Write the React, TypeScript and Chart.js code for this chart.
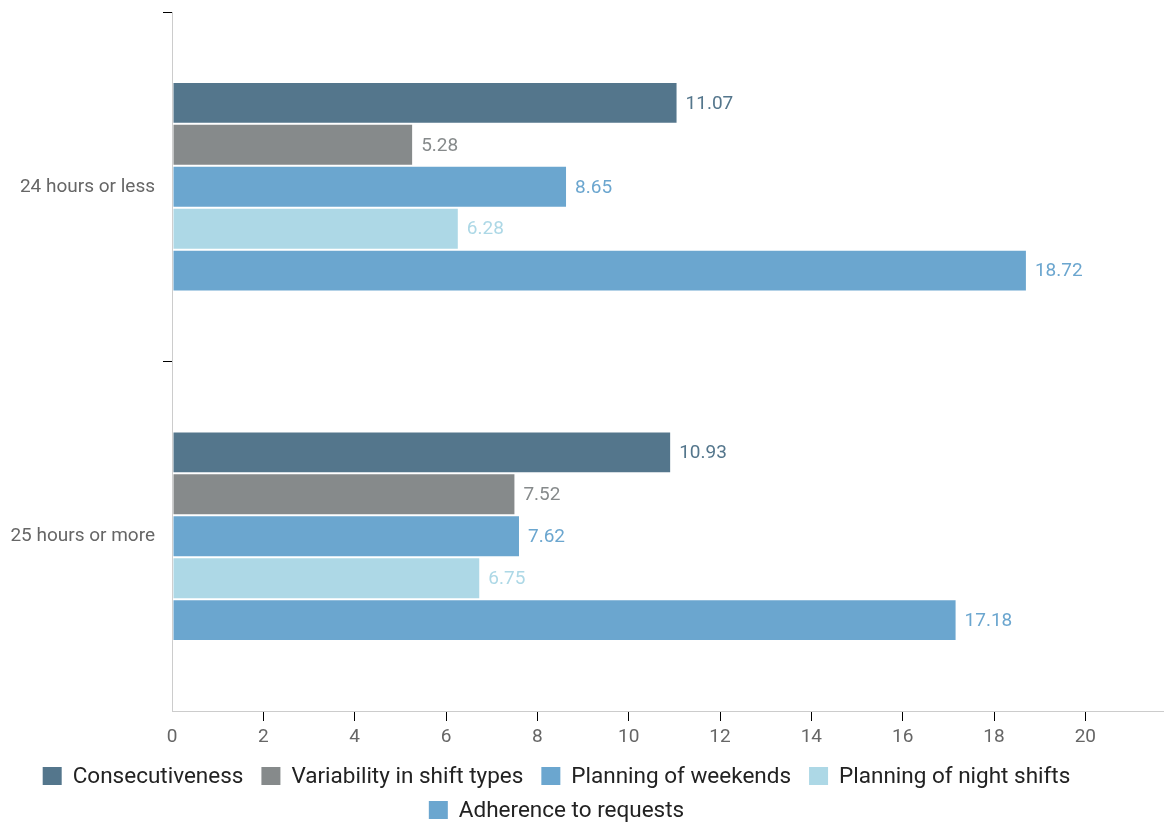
import React, { useEffect, useRef } from "react";
import { Chart, registerables } from "chart.js";

Chart.register(...registerables);

const categories = ["24 hours or less", "25 hours or more"];
const seriesNames = [
  "Consecutiveness",
  "Variability in shift types",
  "Planning of weekends",
  "Planning of night shifts",
  "Adherence to requests",
];
const consecutiveness = [11.07, 10.93];
const variability = [5.28, 7.52];
const weekends = [8.65, 7.62];
const nightShifts = [6.28, 6.75];
const adherence = [18.72, 17.18];
const seriesColors = ["#54768c", "#868a8b", "#6ba6cf", "#add8e6", "#6ba6cf"];

const FONT = "Roboto, 'Noto Sans', sans-serif";
const CANVAS_W = 1165;
const CANVAS_H = 823;

// Legend geometry (drawn below the x axis)
const LEGEND_FONT_SIZE = 22.5;
const LEGEND_BOX_W = 19;
const LEGEND_BOX_H = 18;
const LEGEND_BOX_GAP = 11;
const LEGEND_ITEM_GAP = 18;
const LEGEND_FIRST_ROW = 65;
const LEGEND_ROW_STEP = 34;
const LEGEND_SHIFT_X = -26;

// Writes each bar's value just past its end, in the bar's colour.
const valueLabels = {
  id: "valueLabels",
  afterDatasetsDraw(chart: any) {
    const ctx = chart.ctx;
    ctx.save();
    ctx.font = `19px ${FONT}`;
    ctx.textBaseline = "middle";
    ctx.textAlign = "left";
    chart.data.datasets.forEach((ds: any, i: number) => {
      const meta = chart.getDatasetMeta(i);
      meta.data.forEach((bar: any, j: number) => {
        ctx.fillStyle = seriesColors[i];
        ctx.fillText(Number(ds.data[j]).toFixed(2), bar.x + 8, bar.y + 1);
      });
    });
    ctx.restore();
  },
};

// Centred, wrapping legend with square swatches.
const bottomLegend = {
  id: "bottomLegend",
  afterDraw(chart: any) {
    const ctx = chart.ctx;
    ctx.save();
    ctx.font = `${LEGEND_FONT_SIZE}px ${FONT}`;
    ctx.textBaseline = "middle";
    ctx.textAlign = "left";
    const items = chart.data.datasets.map((ds: any) => {
      const w = LEGEND_BOX_W + LEGEND_BOX_GAP + ctx.measureText(ds.label).width;
      return { text: ds.label, color: ds.backgroundColor, w };
    });
    const maxW = chart.width - 40;
    const rows: any[][] = [[]];
    let rowW = 0;
    items.forEach((it: any) => {
      const row = rows[rows.length - 1];
      const next = row.length ? rowW + LEGEND_ITEM_GAP + it.w : it.w;
      if (row.length && next > maxW) {
        rows.push([it]);
        rowW = it.w;
      } else {
        row.push(it);
        rowW = next;
      }
    });
    const cx = chart.width / 2 + LEGEND_SHIFT_X;
    rows.forEach((row, r) => {
      const total =
        row.reduce((s: number, it: any) => s + it.w, 0) + LEGEND_ITEM_GAP * (row.length - 1);
      let x = cx - total / 2;
      const y = chart.chartArea.bottom + LEGEND_FIRST_ROW + r * LEGEND_ROW_STEP;
      row.forEach((it: any) => {
        ctx.fillStyle = it.color;
        ctx.fillRect(x, y - LEGEND_BOX_H / 2, LEGEND_BOX_W, LEGEND_BOX_H);
        ctx.fillStyle = "#222";
        ctx.fillText(it.text, x + LEGEND_BOX_W + LEGEND_BOX_GAP, y + 1);
        x += it.w + LEGEND_ITEM_GAP;
      });
    });
    ctx.restore();
  },
};

export default function App() {
  const ref = useRef<HTMLCanvasElement | null>(null);

  useEffect(() => {
    if (!ref.current) return;
    const values = [consecutiveness, variability, weekends, nightShifts, adherence];
    const chart = new Chart(ref.current, {
      type: "bar",
      data: {
        labels: categories,
        datasets: seriesNames.map((name, i) => ({
          label: name,
          data: values[i],
          backgroundColor: seriesColors[i],
          borderColor: "rgba(255,255,255,0.3)",
          borderWidth: 1,
          borderSkipped: false,
          categoryPercentage: 0.6,
          barPercentage: 1,
        })),
      },
      options: {
        indexAxis: "y",
        animation: false,
        responsive: false,
        layout: { padding: { top: 12, right: 2, left: 0, bottom: 70 } },
        plugins: {
          tooltip: { enabled: false },
          legend: { display: false },
        },
        scales: {
          x: {
            min: 0,
            max: 21.7,
            afterBuildTicks: (scale: any) => {
              scale.ticks = scale.ticks.filter((t: any) => t.value % 2 === 0);
            },
            afterFit: (scale: any) => {
              scale.height = 42;
            },
            ticks: {
              stepSize: 2,
              color: "#666",
              padding: 5,
              font: { family: FONT, size: 19 },
            },
            grid: {
              drawOnChartArea: false,
              drawTicks: true,
              tickLength: 10,
              tickColor: (c: any) => (c.index === 0 ? "rgba(0,0,0,0)" : "#000"),
            },
            border: { color: "#ccc", width: 1 },
          },
          y: {
            afterFit: (scale: any) => {
              scale.width = 172;
              scale.paddingTop = 0;
              scale.paddingBottom = 0;
            },
            ticks: {
              color: "#666",
              padding: 8,
              font: { family: FONT, size: 19 },
            },
            grid: {
              offset: true,
              drawOnChartArea: false,
              drawTicks: true,
              tickLength: 9,
              tickColor: (c: any) => (c.type === "tick" ? "#000" : "rgba(0,0,0,0)"),
            },
            border: { color: "#ccc", width: 1 },
          },
        },
      },
      plugins: [valueLabels, bottomLegend],
    } as any);
    return () => chart.destroy();
  }, []);

  return (
    <div
      style={{
        position: "fixed",
        left: 0,
        top: 0,
        width: 1165,
        height: 823,
        overflow: "hidden",
        background: "#fff",
      }}
    >
      <canvas ref={ref} width={CANVAS_W} height={CANVAS_H} style={{ display: "block" }} />
    </div>
  );
}
